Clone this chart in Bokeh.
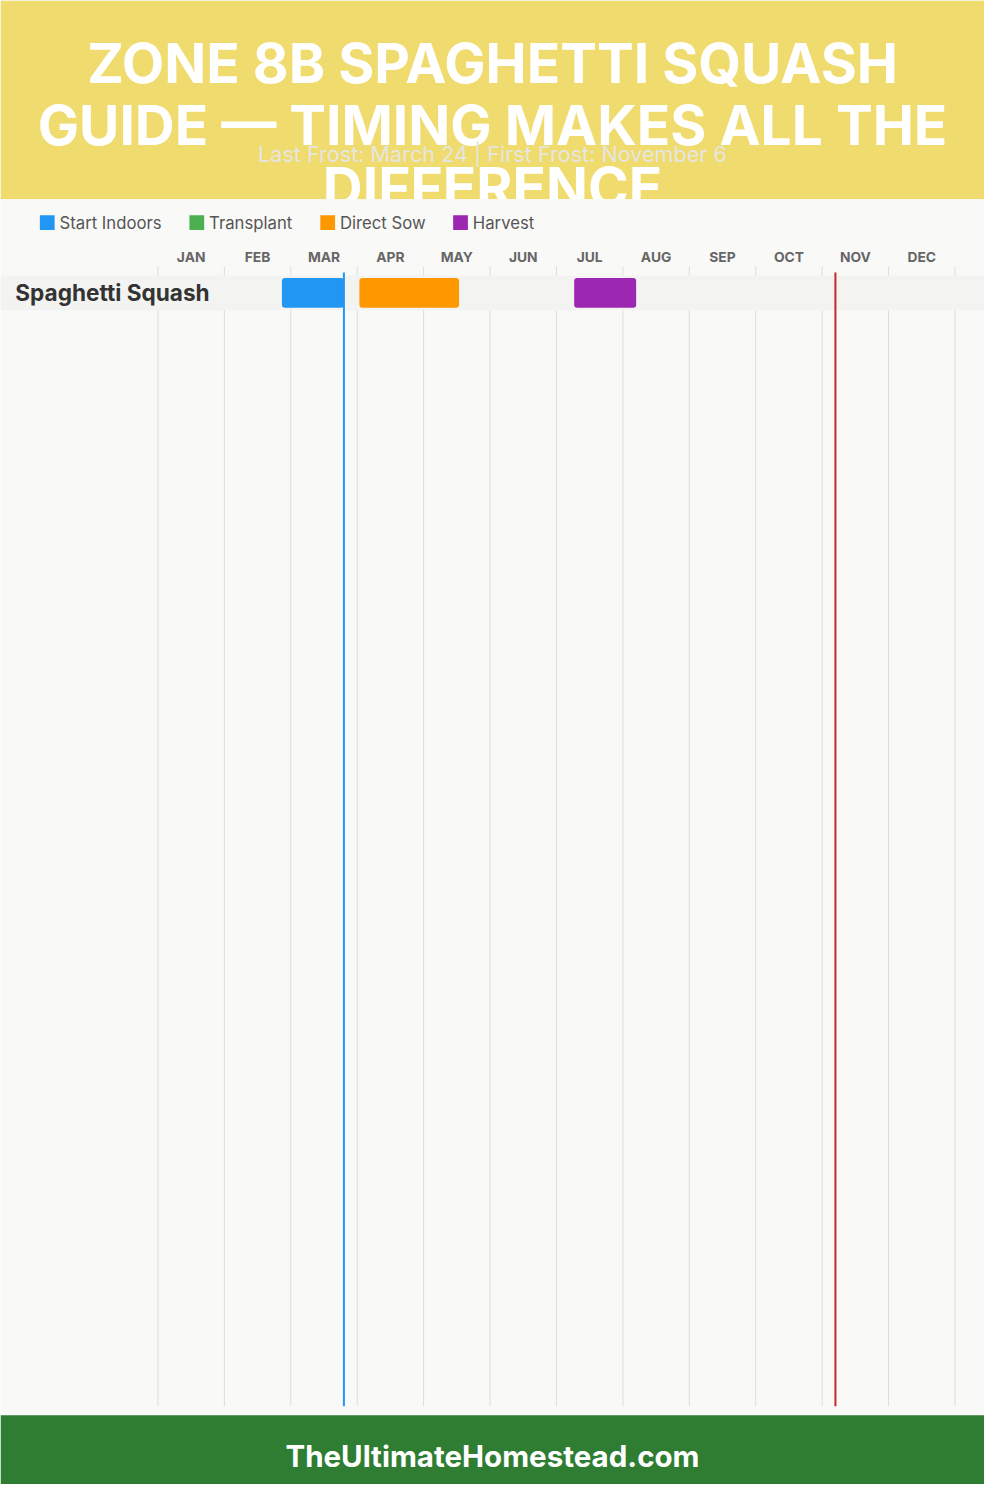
from bokeh.plotting import figure
from bokeh.models import Range1d
from bokeh.core.properties import value
from bokeh.embed import file_html
from bokeh.resources import INLINE

# ---------------- data ----------------
title_lines = ["ZONE 8B SPAGHETTI SQUASH", "GUIDE \u2014 TIMING MAKES ALL THE", "DIFFERENCE"]
subtitle = "Last Frost: March 24 | First Frost: November 6"
footer = "TheUltimateHomestead.com"
months = ["JAN", "FEB", "MAR", "APR", "MAY", "JUN", "JUL", "AUG", "SEP", "OCT", "NOV", "DEC"]
legend_labels = ["Start Indoors", "Transplant", "Direct Sow", "Harvest"]
legend_colors = ["#2196F3", "#4CAF50", "#FF9800", "#9C27B0"]
crops = ["Spaghetti Squash"]
bar_phase = ["Start Indoors", "Direct Sow", "Harvest"]
bar_start_month = [2, 4, 7]
bar_start_day = [26, 1, 8]
bar_end_month = [3, 5, 8]
bar_end_day = [24, 16, 6]
last_frost = (3, 24)
first_frost = (11, 6)

# ---------------- layout helpers ----------------
REF_W, REF_H = 1000, 1500
W, H = 984, 1484
SC = W / REF_W
CH_L, CH_R = 160, 970
MW = (CH_R - CH_L) / 12.0


def m(px):
    return (px - CH_L) / MW


def dx(m_, d):
    return (m_ - 1) + d / 30.0


def fs(px):
    return "%.1fpx" % (px * SC)


x0, x1 = m(0), m(REF_W)
p = figure(width=W, height=H, x_range=Range1d(x0, x1), y_range=Range1d(REF_H, 0),
           output_backend="svg", toolbar_location=None, min_border=0,
           outline_line_color=None, background_fill_color="#F9F9F8",
           border_fill_color="#F9F9F8")
p.axis.visible = False
p.grid.visible = False

# header
p.quad(left=[x0], right=[x1], top=[0], bottom=[201], color="#F0DB6E", line_color=None)
title_y = [63, 126, 189]
for t, ty in zip(title_lines, title_y):
    p.text(x=[m(500)], y=[ty], text=[t], text_align="center", text_baseline="middle",
           text_font=value("Inter"), text_font_style="bold", text_font_size=fs(56),
           text_color="white")
p.text(x=[m(500)], y=[155], text=[subtitle], text_align="center", text_baseline="middle",
       text_font=value("Inter"), text_font_size=fs(22), text_color="#E6E6E0")

# chart background (covers overflowing title)
p.quad(left=[x0], right=[x1], top=[201], bottom=[1430], color="#F9F9F8", line_color=None)

# legend
leg_sq_x = [40, 192, 325, 460]
for lbl, col, lx in zip(legend_labels, legend_colors, leg_sq_x):
    p.quad(left=[m(lx)], right=[m(lx + 15)], top=[217], bottom=[232], color=col, line_color=None)
    p.text(x=[m(lx + 20)], y=[225], text=[lbl], text_align="left", text_baseline="middle",
           text_font=value("Inter"), text_font_size=fs(17), text_color="#555555")

# month labels
p.text(x=[i + 0.5 for i in range(12)], y=[259] * 12, text=months, text_align="center",
       text_baseline="middle", text_font=value("Inter"), text_font_style="bold",
       text_font_size=fs(14), text_color="#666666")

# grid lines
p.segment(x0=list(range(13)), x1=list(range(13)), y0=[269] * 13, y1=[1421] * 13,
          line_color="#DDDDDD", line_width=1)

# row band
row_y = 295.5
for i, c in enumerate(crops):
    yc = row_y + i * 36
    p.quad(left=[x0], right=[x1], top=[yc - 17.5], bottom=[yc + 17.5], color="#F3F3F2", line_color=None)
    p.text(x=[m(15)], y=[yc], text=[c], text_align="left", text_baseline="middle",
           text_font=value("Inter"), text_font_style="bold", text_font_size=fs(23),
           text_color="#333333")

# bars
col_map = dict(zip(legend_labels, legend_colors))
lefts = [dx(a, b) for a, b in zip(bar_start_month, bar_start_day)]
rights = [dx(a, b) for a, b in zip(bar_end_month, bar_end_day)]
p.quad(left=lefts, right=rights, top=[row_y - 15] * len(lefts), bottom=[row_y + 15] * len(lefts),
       fill_color=[col_map[ph] for ph in bar_phase], line_color=None, border_radius=3)

# frost lines
lf = dx(*last_frost)
ff = dx(*first_frost)
p.segment(x0=[lf], x1=[lf], y0=[275], y1=[1421], line_color="#2196F3", line_width=2)
p.segment(x0=[ff], x1=[ff], y0=[275], y1=[1421], line_color="#C62828", line_width=2)

# footer
p.quad(left=[x0], right=[x1], top=[1430], bottom=[REF_H], color="#2E7D32", line_color=None)
p.text(x=[m(500)], y=[1471], text=[footer], text_align="center", text_baseline="middle",
       text_font=value("Inter"), text_font_style="bold", text_font_size=fs(30), text_color="white")

open("out.html", "w").write(file_html(p, INLINE))
